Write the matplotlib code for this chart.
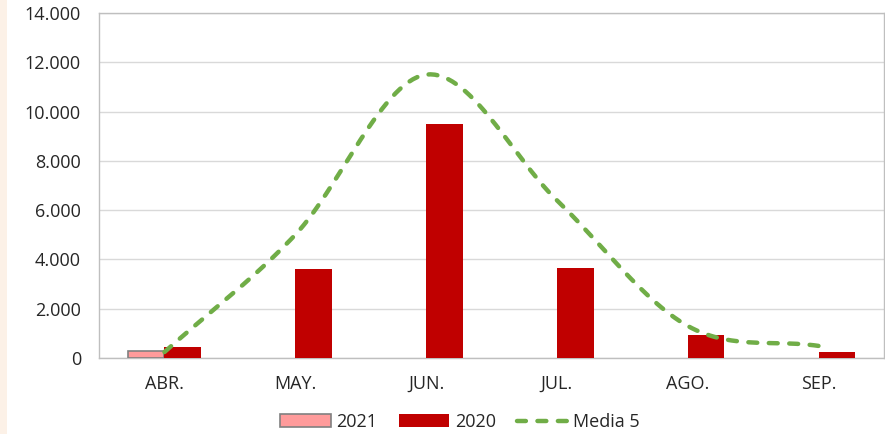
import numpy as np
import matplotlib
matplotlib.use("Agg")
import matplotlib.pyplot as plt
from matplotlib.patches import Rectangle

categories = ["ABR.", "MAY.", "JUN.", "JUL.", "AGO.", "SEP."]
values_2021 = [280, None, None, None, None, None]
values_2020 = [450, 3600, 9500, 3650, 950, 250]
media5 = [240, 5000, 11500, 6400, 1300, 490]
yticks = [0, 2000, 4000, 6000, 8000, 10000, 12000, 14000]

plt.rcParams['font.family'] = ['Open Sans', 'DejaVu Sans']

fig = plt.figure(figsize=(8.85, 4.34), dpi=100)
fig.patches.append(Rectangle((0, 0), 7/885, 1, transform=fig.transFigure,
                             facecolor="#FCF1E7", edgecolor="none", zorder=0))
ax = fig.add_axes([99/885, 1-358/434, 785/885, 345/434])

x = np.arange(len(categories))
w = 0.28
h2021 = None
for i, v in enumerate(values_2021):
    if v is not None:
        h2021 = ax.bar(x[i] - w/2, v, width=w, color="#FF9B9B", edgecolor="#808080",
                       linewidth=1.2, zorder=3, label="2021")
h2020 = ax.bar(x + w/2, values_2020, width=w, color="#C00000", zorder=3, label="2020")

# Catmull-Rom smoothing of the line (render only)
def catmull(xs, ys, n=30):
    xs = np.asarray(xs, float); ys = np.asarray(ys, float)
    px = np.concatenate([[2*xs[0]-xs[1]], xs, [2*xs[-1]-xs[-2]]])
    py = np.concatenate([[2*ys[0]-ys[1]], ys, [2*ys[-1]-ys[-2]]])
    ox, oy = [], []
    for k in range(1, len(px)-2):
        t = np.linspace(0, 1, n, endpoint=False)
        for P, out in ((px, ox), (py, oy)):
            p0, p1, p2, p3 = P[k-1], P[k], P[k+1], P[k+2]
            out.extend(0.5*((2*p1) + (-p0+p2)*t + (2*p0-5*p1+4*p2-p3)*t**2
                            + (-p0+3*p1-3*p2+p3)*t**3))
    ox.append(xs[-1]); oy.append(ys[-1])
    return np.array(ox), np.array(oy)

sx, sy = catmull(x, media5)
hline, = ax.plot(sx, sy, color="#70AD47", linewidth=3.2, linestyle=(0, (2.0, 2.6)),
                 dash_capstyle="round", zorder=4, label="Media 5")

ax.set_xlim(-0.5, 5.5)
ax.set_ylim(0, 14000)
ax.set_yticks(yticks)
ax.set_yticklabels([f"{v:,}".replace(",", ".") for v in yticks])
ax.set_xticks(x)
ax.set_xticklabels(categories)
ax.tick_params(axis="both", length=0, labelsize=13, colors="#262626")
ax.tick_params(axis="y", pad=13)
ax.tick_params(axis="x", pad=12)
ax.grid(axis="y", color="#D9D9D9", linewidth=1, zorder=0)
ax.set_axisbelow(True)
for s in ax.spines.values():
    s.set_color("#BFBFBF")
    s.set_linewidth(1)

leg = fig.legend([h2021, h2020, hline], ["2021", "2020", "Media 5"], loc="center",
                 bbox_to_anchor=(460/885, 1-422/434),
                 ncol=3, frameon=False, fontsize=13, handlelength=2.8,
                 handleheight=0.75, columnspacing=1.2, handletextpad=0.3)
for t in leg.get_texts():
    t.set_color("#262626")

fig.savefig("out.png", dpi=100)
